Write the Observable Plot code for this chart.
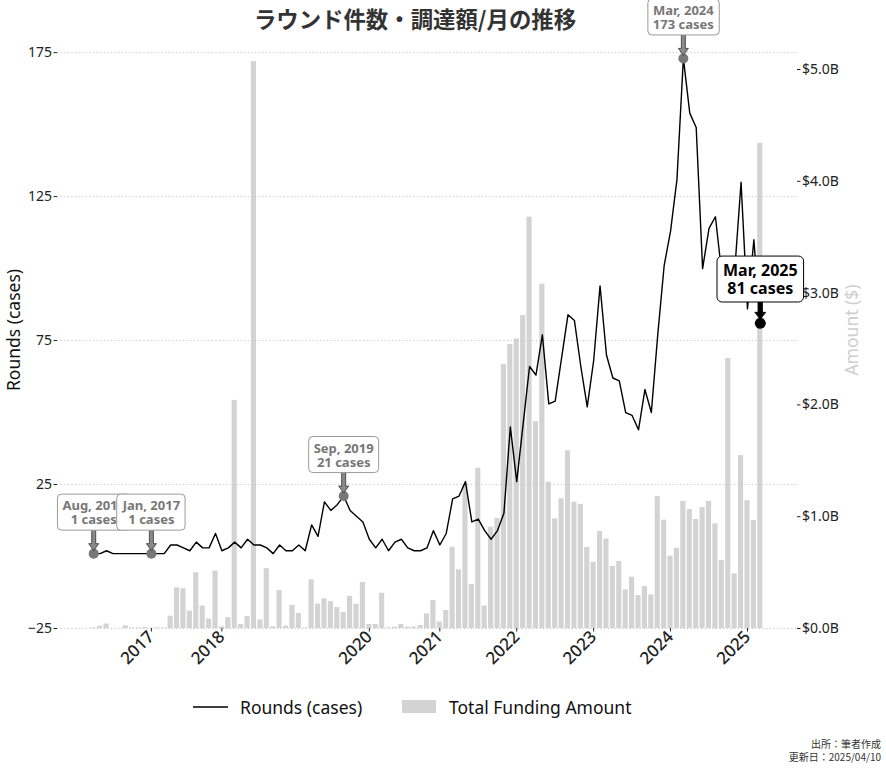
<!DOCTYPE html>
<html>
<head>
<meta charset="utf-8">
<script src="https://cdn.jsdelivr.net/npm/d3@7"></script>
<script src="https://cdn.jsdelivr.net/npm/@observablehq/plot@0.6"></script>
<style>
  body { margin: 0; background: #fff; font-family: "Noto Sans", "Noto Sans CJK JP", sans-serif; }
  #wrap { position: relative; width: 886px; height: 768px; overflow: hidden; background: #fff; }
  .layer { position: absolute; left: 0; top: 0; }
  #title { position: absolute; left: 0; top: 3px; width: 830px; text-align: center; font-family: "Noto Sans CJK JP", sans-serif; font-size: 22.4px; font-weight: 700; color: #333; line-height: 30px; white-space: nowrap; }
  .ylab { position: absolute; font-size: 17.5px; white-space: nowrap; transform: translate(-50%, -50%) rotate(-90deg); line-height: 20px; }
  #legend { position: absolute; left: 0; top: 695px; width: 886px; height: 24px; font-size: 17.5px; color: #111; }
  #legend span { position: absolute; top: 0; line-height: 24px; white-space: nowrap; }
  #caption { position: absolute; right: 5px; top: 738px; text-align: right; font-family: "Noto Sans CJK JP", sans-serif; font-size: 10px; line-height: 12.5px; color: #333; }
</style>
</head>
<body>
<div id="wrap">
  <div id="bars" class="layer"></div>
  <div id="lines" class="layer"></div>
  <div id="title"></div>
  <div class="ylab" id="ylabL" style="left:13px; top:330px; color:#111;"></div>
  <div class="ylab" id="ylabR" style="left:851px; top:330px; color:#cfcfcf;"></div>
  <div id="legend"></div>
  <div id="caption"></div>
</div>
<script>
// ---------------- data ----------------
const titleText = "ラウンド件数・調達額/月の推移";
const leftLabel = "Rounds (cases)";
const rightLabel = "Amount ($)";
const seriesLine = "Rounds (cases)";
const seriesBar = "Total Funding Amount";
const captionLines = ["出所：筆者作成", "更新日：2025/04/10"];

const months = [
  "2015-08","2015-10","2015-12","2016-03","2016-05","2016-07","2016-09","2016-10","2016-12",
  "2017-01","2017-02","2017-03","2017-04","2017-05","2017-06","2017-08","2017-09","2017-10","2017-11","2017-12",
  "2018-01","2018-02","2018-03","2018-04","2018-05","2018-06","2018-07","2018-08","2018-09","2018-10","2018-11","2018-12",
  "2019-02","2019-03","2019-04","2019-05","2019-06","2019-07","2019-08","2019-09","2019-10","2019-11","2019-12",
  "2020-01","2020-02","2020-03","2020-04","2020-06","2020-07","2020-08","2020-09","2020-10","2020-11","2020-12",
  "2021-01","2021-02","2021-03","2021-04","2021-05","2021-06","2021-07","2021-08","2021-09","2021-10","2021-11","2021-12",
  "2022-01","2022-02","2022-03","2022-04","2022-05","2022-06","2022-07","2022-08","2022-09","2022-10","2022-11","2022-12",
  "2023-01","2023-02","2023-03","2023-04","2023-05","2023-06","2023-07","2023-08","2023-09","2023-10","2023-11","2023-12",
  "2024-01","2024-02","2024-03","2024-04","2024-05","2024-06","2024-07","2024-08","2024-09","2024-10","2024-11","2024-12",
  "2025-01","2025-02","2025-03"
];

// rounds per month (cases)
const rounds = [
  1,1,2,1,1,1,1,1,1,
  1,1,1,4,4,3,2,5,3,3,8,
  2,3,5,3,6,4,4,3,1,4,2,2,
  4,2,11,7,19,16,18,21,16,14,12,
  6,3,6,2,5,6,3,2,2,3,9,
  4,8,20,21,26,12,13,9,6,9,15,45,
  26,46,66,63,77,53,54,69,84,82,66,52,
  68,94,70,62,61,50,49,44,58,50,77,101,
  113,131,173,154,149,100,114,118,98,100,99,130,
  86,110,81
];

// total funding amount per month (billions of $)
const amountB = [
  0.005,0.02,0.04,0,0,0.025,0.005,0.005,0.008,
  0.003,0.005,0.005,0.11,0.364,0.355,0.155,0.498,0.2,0.085,0.513,
  0.015,0.097,2.04,0.036,0.107,5.07,0.077,0.535,0.015,0.34,0.022,0.207,
  0.135,0.005,0.435,0.219,0.265,0.241,0.187,0.143,0.288,0.217,0.411,
  0.036,0.036,0.315,0.006,0.012,0.036,0.012,0.012,0.027,0.131,0.25,
  0.057,0.161,0.727,0.525,1.29,0.394,1.434,0.2,0.906,0.985,2.36,2.54,
  2.59,2.80,3.68,1.85,3.08,1.31,0.98,1.16,1.59,1.13,1.11,0.725,
  0.593,0.868,0.80,0.555,0.60,0.346,0.459,0.295,0.376,0.301,1.18,0.969,
  0.647,0.718,1.136,1.064,0.975,1.082,1.136,0.936,0.608,2.415,0.489,1.547,
  1.142,0.966,4.34
];

const xTicks = ["2017-01","2018-01","2020-01","2021-01","2022-01","2023-01","2024-01","2025-01"];
const yTicksLeft = [-25, 25, 75, 125, 175];
const yTicksRight = [0, 1, 2, 3, 4, 5];
const markedMonths = ["2015-08","2017-01","2019-09","2024-03"];
const latestMonth = "2025-03";

const colors = {bar: "#d3d3d3", line: "#000", mark: "#777", grid: "#c4c4c4"};

// ---------------- build ----------------
const table = months.map((m, i) => ({month: m, rounds: rounds[i], amount: amountB[i]}));
const parseM = d3.timeParse("%Y-%m");
const fmtM = d3.timeFormat("%b, %Y");
const annotText = d => `${fmtM(parseM(d.month))}\n${d.rounds} cases`;
const marked = table.filter(d => markedMonths.includes(d.month));
const latest = table.filter(d => d.month === latestMonth);

const W = 886, H = 690;
const M = {marginTop: 32, marginBottom: 62, marginLeft: 57, marginRight: 90};
const FONT = '"Noto Sans", "Noto Sans CJK JP", sans-serif';
const xScale = {type: "band", domain: months, paddingInner: 0.2, paddingOuter: 5.25, align: 0.5};
const yTopAmount = 5.331;

const barPlot = Plot.plot({
  width: W, height: H, ...M,
  style: {background: "white", fontFamily: FONT, fontSize: "14px", color: "#222"},
  x: {...xScale, axis: null},
  y: {domain: [0, yTopAmount]},
  marks: [
    Plot.barY(table, {x: "month", y: "amount", fill: colors.bar}),
    Plot.axisY(yTicksRight, {anchor: "right", tickSize: 3.5, tickPadding: 2, fontSize: 14,
      tickFormat: d => `$${d.toFixed(1)}B`, label: null})
  ]
});
document.getElementById("bars").appendChild(barPlot);

function arrowShape(hw, hh, hl) {
  return {
    draw(context, l) {
      context.moveTo(-hw, 0);
      context.lineTo(-hw, -l + hl);
      context.lineTo(-hh, -l + hl);
      context.lineTo(0, -l);
      context.lineTo(hh, -l + hl);
      context.lineTo(hw, -l + hl);
      context.lineTo(hw, 0);
      context.closePath();
    }
  };
}

function makeLinePlot(shapeGray, shapeBlack) {
  return Plot.plot({
    width: W, height: H, ...M,
    style: {background: "transparent", overflow: "visible", fontFamily: FONT, fontSize: "14px", color: "#222"},
    x: xScale,
    y: {domain: [-25, 182]},
    marks: [
      Plot.gridY(yTicksLeft, {stroke: colors.grid, strokeOpacity: 1, strokeDasharray: "1.2,2.4", strokeWidth: 1}),
      Plot.axisY(yTicksLeft, {anchor: "left", tickSize: 3.5, tickPadding: 2, fontSize: 14, label: null}),
      Plot.axisX(xTicks, {anchor: "bottom", tickSize: 3.5, tickPadding: 2, tickRotate: -45, fontSize: 17,
        fontWeight: 500, tickFormat: d => d.slice(0, 4), label: null}),
      Plot.line(table, {x: "month", y: "rounds", stroke: colors.line, strokeWidth: 1.4}),
      Plot.dot(marked, {x: "month", y: "rounds", r: 5, fill: colors.mark, stroke: "none"}),
      Plot.dot(latest, {x: "month", y: "rounds", r: 5.5, fill: "#000", stroke: "none"}),
      Plot.vector(marked, {x: "month", y: "rounds", length: 21, rotate: 180, anchor: "end", dy: -3,
        shape: shapeGray, fill: "#8a8a8a", stroke: "#333", strokeWidth: 0.8}),
      Plot.vector(latest, {x: "month", y: "rounds", length: 19, rotate: 180, anchor: "end", dy: -4,
        shape: shapeBlack, fill: "#000", stroke: "#000", strokeWidth: 0.8}),
      Plot.text(marked, {x: "month", y: "rounds", text: annotText, dy: -41, lineAnchor: "middle",
        fontSize: 13, fontWeight: 700, fill: "#777", lineHeight: 1.08}),
      Plot.text(latest, {x: "month", y: "rounds", text: annotText, dy: -44, lineAnchor: "middle",
        fontSize: 16, fontWeight: 700, fill: "#000", lineHeight: 1.12})
    ]
  });
}

let linePlot;
try {
  linePlot = makeLinePlot(arrowShape(2, 5, 7), arrowShape(2.2, 5.5, 7));
} catch (e) {
  linePlot = makeLinePlot("arrow", "arrow");
}
document.getElementById("lines").appendChild(linePlot);

// rounded boxes behind annotation labels
const textGroups = linePlot.querySelectorAll('g[aria-label="text"]');
const boxStyles = [
  {stroke: "#9a9a9a", padX: 5, padY: 2, rx: 4},
  {stroke: "#000", padX: 6, padY: 3, rx: 5}
];
textGroups.forEach((g, gi) => {
  const st = boxStyles[Math.min(gi, boxStyles.length - 1)];
  g.querySelectorAll("text").forEach(t => {
    const b = t.getBBox();
    const r = document.createElementNS("http://www.w3.org/2000/svg", "rect");
    r.setAttribute("x", b.x - st.padX);
    r.setAttribute("y", b.y - st.padY);
    r.setAttribute("width", b.width + 2 * st.padX);
    r.setAttribute("height", b.height + 2 * st.padY);
    r.setAttribute("rx", st.rx);
    r.setAttribute("fill", "white");
    r.setAttribute("stroke", st.stroke);
    r.setAttribute("stroke-width", 1);
    const tr = t.getAttribute("transform");
    if (tr) r.setAttribute("transform", tr);
    g.insertBefore(r, t);
  });
});

// text furniture
document.getElementById("title").textContent = titleText;
document.getElementById("ylabL").textContent = leftLabel;
document.getElementById("ylabR").textContent = rightLabel;
document.getElementById("legend").innerHTML =
  `<svg style="position:absolute;left:193px;top:0" width="36" height="24"><line x1="0" x2="35" y1="12" y2="12" stroke="${colors.line}" stroke-width="1.5"/></svg>` +
  `<span style="left:240px">${seriesLine}</span>` +
  `<div style="position:absolute;left:402px;top:5px;width:34px;height:13px;background:${colors.bar}"></div>` +
  `<span style="left:449px">${seriesBar}</span>`;
document.getElementById("caption").innerHTML = captionLines.join("<br>");
</script>
</body>
</html>
